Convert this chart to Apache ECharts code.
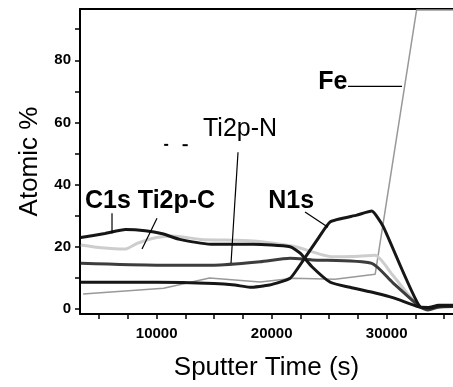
<!DOCTYPE html>
<html>
<head>
<meta charset="utf-8">
<script src="https://cdn.jsdelivr.net/npm/echarts@6/dist/echarts.min.js"></script>
<style>
html,body{margin:0;padding:0;background:#fff;}
#c{width:453px;height:387px;}
</style>
</head>
<body>
<div id="c"></div>
<script>
// ---- Data ----
var c1sTime  = [3400, 5500, 7300, 9000, 10500, 12000, 15000, 18400, 21600, 22500, 23500, 25100, 26800, 29100, 30600, 32800, 33800, 34500, 35800];
var c1sPct   = [23.0, 24.3, 25.6, 25.2, 24.2, 22.4, 20.8, 20.8, 20.0, 17.9, 13.6, 8.6, 7.0, 5.1, 3.6, 0.7, 0.3, 1.0, 1.0];

var ti2pCTime = [3400, 5200, 7300, 8300, 10000, 11400, 13800, 18400, 21900, 25300, 27000, 29000, 30500, 32800, 33600, 34500, 35800];
var ti2pCPct  = [20.6, 19.7, 19.3, 21.1, 23.0, 23.5, 22.4, 21.9, 20.2, 16.8, 16.9, 17.3, 11.0, 0.7, 0.2, 0.8, 1.0];

var ti2pNTime = [3400, 10000, 15000, 19000, 21600, 23500, 28700, 30500, 32900, 33600, 34500, 35800];
var ti2pNPct  = [14.7, 14.1, 14.1, 15.2, 16.3, 15.8, 14.7, 8.6, 0.7, -0.3, 0.6, 0.8];

var n1sTime = [3400, 10000, 15000, 16800, 18100, 19800, 21600, 22750, 24000, 25100, 27400, 28700, 29700, 32900, 33600, 34500, 35800];
var n1sPct  = [8.6, 8.6, 8.2, 7.7, 7.0, 7.7, 9.9, 15.7, 22.5, 28.1, 30.2, 31.5, 26.5, 0.7, 0.5, 1.2, 1.2];

var feTime = [3600, 10600, 14600, 19000, 21900, 25500, 29000, 32600, 35800];
var fePct  = [4.8, 6.7, 10.0, 8.7, 9.9, 9.6, 11.2, 96.2, 96.2];

var xTickValues  = [5000, 7500, 10000, 12500, 15000, 17500, 20000, 22500, 25000, 27500, 30000, 32500, 35000];
var xLabelValues = [10000, 20000, 30000];
var yTickValues  = [0, 10, 20, 30, 40, 50, 60, 70, 80, 90];
var yLabelValues = [0, 20, 40, 60, 80];

var xName = 'Sputter Time (s)';
var yName = 'Atomic %';

// annotation texts anchored in data coordinates [time, percent]
var labelTexts  = ['Fe', 'Ti2p-N', 'C1s Ti2p-C', 'N1s'];
var labelAnchor = [[24050, 72.9], [14029, 57.8], [3768, 34.6], [19700, 34.6]];
var labelBold   = [true, false, true, true];
// pointer lines [from, to] in data coordinates
var pointerLines = [
  [[26638, 71.6], [31333, 71.6]],
  [[17072, 50.4], [16464, 14.8]],
  [[6116, 30.8], [6116, 24.4]],
  [[10029, 29.2], [8725, 19.3]],
  [[22899, 31.2], [24899, 26.3]],
  // small stray marks near the Ti2p-N label
  [[10650, 52.8], [11000, 52.8]],
  [[12250, 52.7], [12700, 52.7]]
];

function pairs(t, v) { return t.map(function (x, i) { return [x, v[i]]; }); }

var FONT = '"Liberation Sans", Arial, sans-serif';
var chart = echarts.init(document.getElementById('c'), null, {renderer: 'canvas'});

function lineSeries(name, t, v, color, width, z, smooth) {
  return {
    name: name, type: 'line', data: pairs(t, v), showSymbol: false, symbol: 'none',
    smooth: smooth, z: z, clip: false,
    lineStyle: {color: color, width: width}, emphasis: {disabled: true}
  };
}

var xMin = 3333, xMax = 35765, yMin = -1.6, yMax = 96.5;

chart.setOption({
  animation: false,
  backgroundColor: '#fff',
  grid: {left: 80, right: 0, top: 9, bottom: 73},
  xAxis: [{
    type: 'value', min: xMin, max: xMax, position: 'bottom',
    axisLine: {show: true, onZero: false, lineStyle: {color: '#000', width: 2}},
    axisTick: {show: true, length: 5, customValues: xTickValues, lineStyle: {color: '#000', width: 1.5}},
    axisLabel: {customValues: xLabelValues, color: '#000', fontWeight: 'bold', fontSize: 15, fontFamily: FONT, margin: 12,
      formatter: function (v) { return String(v); }},
    splitLine: {show: false},
    name: xName, nameLocation: 'middle', nameGap: 41,
    nameTextStyle: {fontSize: 26, color: '#000', fontFamily: FONT}
  }, {
    type: 'value', min: xMin, max: xMax, position: 'top',
    axisLine: {show: true, onZero: false, lineStyle: {color: '#000', width: 2}},
    axisTick: {show: false}, axisLabel: {show: false}, splitLine: {show: false}
  }],
  yAxis: [{
    type: 'value', min: yMin, max: yMax,
    axisLine: {show: true, onZero: false, lineStyle: {color: '#000', width: 2}},
    axisTick: {show: true, length: 5, customValues: yTickValues, lineStyle: {color: '#000', width: 1.5}},
    axisLabel: {customValues: yLabelValues, color: '#000', fontWeight: 'bold', fontSize: 15, fontFamily: FONT, margin: 9,
      formatter: function (v) { return String(v); }},
    splitLine: {show: false},
    name: yName, nameLocation: 'middle', nameGap: 37,
    nameTextStyle: {fontSize: 26, color: '#000', fontFamily: FONT}
  }],
  series: [
    lineSeries('Fe', feTime, fePct, '#999999', 1.5, 2, false),
    lineSeries('Ti2p-C', ti2pCTime, ti2pCPct, '#cdcdcd', 3, 3, 0.2),
    lineSeries('Ti2p-N', ti2pNTime, ti2pNPct, '#3d3d3d', 3, 4, 0.2),
    lineSeries('C1s', c1sTime, c1sPct, '#161616', 3, 5, 0.2),
    lineSeries('N1s', n1sTime, n1sPct, '#161616', 3, 5, 0.15)
  ]
});

// annotations placed through the axes' own scales
var g = [];
labelTexts.forEach(function (txt, i) {
  var p = chart.convertToPixel({xAxisIndex: 0, yAxisIndex: 0}, labelAnchor[i]);
  g.push({type: 'text', x: p[0], y: p[1], z: 10,
    style: {text: txt, fill: '#000', font: (labelBold[i] ? 'bold ' : '') + '25px ' + FONT,
      textAlign: 'left', textVerticalAlign: 'middle'}});
});
pointerLines.forEach(function (ln, i) {
  var a = chart.convertToPixel({xAxisIndex: 0, yAxisIndex: 0}, ln[0]);
  var b = chart.convertToPixel({xAxisIndex: 0, yAxisIndex: 0}, ln[1]);
  g.push({type: 'line', z: 10, shape: {x1: a[0], y1: a[1], x2: b[0], y2: b[1]},
    style: {stroke: '#000', lineWidth: i >= 5 ? 2 : 1.2}});
});
chart.setOption({graphic: g});
</script>
</body>
</html>
